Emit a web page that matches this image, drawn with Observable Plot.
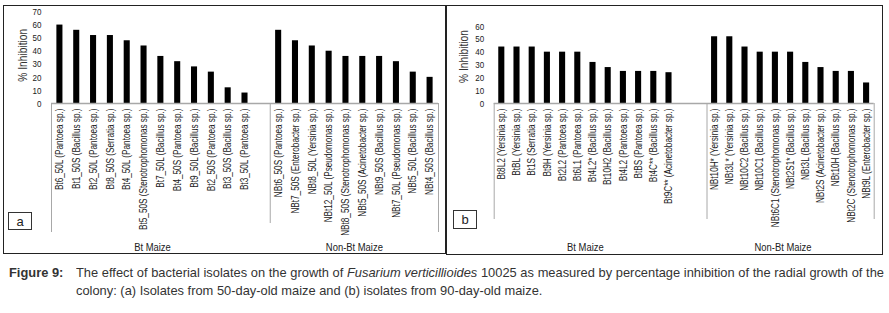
<!DOCTYPE html>
<html><head><meta charset="utf-8">
<script src="https://cdn.jsdelivr.net/npm/d3@7"></script>
<script src="https://cdn.jsdelivr.net/npm/@observablehq/plot@0.6"></script>
<style>
body{margin:0;background:#fff;}
#wrap{position:relative;width:889px;height:313px;background:#fff;overflow:hidden;font-family:'Liberation Sans',Arial,sans-serif;color:#222;}
.panel{position:absolute;}
.border{position:absolute;border:1.5px solid #222;box-sizing:border-box;}
.tag{position:absolute;border:1px solid #333;box-sizing:border-box;font-size:13px;display:flex;align-items:center;justify-content:center;background:#fff;}
.cap{position:absolute;font-size:13.5px;line-height:18px;white-space:nowrap;color:#333;transform-origin:0 0;}
</style></head><body><div id="wrap">
<div class="border" style="left:3px;top:5px;width:443px;height:249px"></div>
<div class="border" style="left:446px;top:5px;width:437px;height:250px"></div>
<div class="panel" id="pa" style="left:4px;top:6px"></div>
<div class="panel" id="pb" style="left:447px;top:6px"></div>
<div class="tag" style="left:8px;top:212px;width:24px;height:18px">a</div>
<div class="tag" style="left:453px;top:210px;width:24px;height:19px">b</div>
<div class="cap" id="c0" style="left:9px;top:264px;font-weight:bold">Figure 9:</div>
<div class="cap" id="c1" style="left:76px;top:264px;white-space:normal;text-align:justify;text-align-last:justify">The effect of bacterial isolates on the growth of <i>Fusarium verticillioides</i> 10025 as measured by percentage inhibition of the radial growth of the</div>
<div class="cap" id="c2" style="left:76px;top:282px">colony: (a) Isolates from 50-day-old maize and (b) isolates from 90-day-old maize.</div>
</div>
<script>
// Panel a: isolates from 50-day-old maize
const aBtNames = ["Bt6_50L (Pantoea sp.)","Bt1_50S (Bacillus sp.)","Bt2_50L (Pantoea sp.)","Bt8_50S (Serratia sp.)","Bt4_50L (Pantoea sp.)","Bt5_50S (Stenotrophomonas sp.)","Bt7_50L (Bacillus sp.)","Bt4_50S (Pantoea sp.)","Bt9_50L (Bacillus sp.)","Bt2_50S (Pantoea sp.)","Bt3_50S (Bacillus sp.)","Bt3_50L (Pantoea sp.)"];
const aBtValues = [60,56,52,52,48,44,36,32,28,24,12,8];
const aNonBtNames = ["NBt6_50S (Pantoea sp.)","NBt7_50S (Enterobacter sp.)","NBt8_50L (Yersinia sp.)","NBt12_50L (Pseudomonas sp.)","NBt8_50S (Stenotrophomonas sp.)","NBt5_50S (Acinetobacter sp.)","NBt9_50S (Bacillus sp.)","NBt7_50L (Pseudomonas sp.)","NBt5_50L (Bacillus sp.)","NBt4_50S (Bacillus sp.)"];
const aNonBtValues = [56,48,44,40,36,36,36,32,24,20];
const aYTicks = [0,10,20,30,40,50,60,70];

// Panel b: isolates from 90-day-old maize
const bBtNames = ["Bt8L2 (Yersinia sp.)","BtBL (Yersinia sp.)","Bt1S (Serratia sp.)","Bt9H (Yersinia sp.)","Bt2L2 (Pantoea sp.)","Bt6L1 (Pantoea sp.)","Bt4L2* (Bacillus sp.)","Bt10H2 (Bacillus sp.)","Bt4L2 (Pantoea sp.)","BtBS (Pantoea sp.)","Bt4C** (Bacillus sp.)","Bt9C** (Acinetobacter sp.)"];
const bBtValues = [44,44,44,40,40,40,32,28,25,25,25,24];
const bNonBtNames = ["NBt10H* (Yersinia sp.)","NBt3L* (Yersinia sp.)","NBt10C2 (Bacillus sp.)","NBt10C1 (Bacillus sp.)","NBt6C1 (Stenotrophomonas sp.)","NBt2S1* (Bacillus sp.)","NBt3L (Bacillus sp.)","NBt2S (Acinetobacter sp.)","NBt10H (Bacillus sp.)","NBt2C (Stenotrophomonas sp.)","NBt9L (Enterobacter sp.)"];
const bNonBtValues = [52,52,44,40,40,40,32,28,25,25,16];
const bYTicks = [0,10,20,30,40,50,60];

const groupLabels = ["Bt Maize","Non-Bt Maize"];
const yTitle = "% Inhibition";
const FONT = "'Liberation Sans',Arial,sans-serif";
const NARROW = 0.82;

function condense(svg, sx) {
  svg.querySelectorAll("text").forEach(t => {
    const tr = t.getAttribute("transform");
    if (tr) t.setAttribute("transform", tr + ` scale(${sx},1)`);
    else {
      const x = +t.getAttribute("x") || 0, y = +t.getAttribute("y") || 0;
      t.removeAttribute("x"); t.removeAttribute("y");
      t.setAttribute("transform", `translate(${x},${y}) scale(${sx},1)`);
    }
  });
  return svg;
}

function panel(o) {
  const gaps = d3.range(o.nGaps).map(i => "gap" + i);
  const domain = [...o.btNames, ...gaps, ...o.nonBtNames];
  const data = [
    ...o.btNames.map((n, i) => ({name: n, value: o.btValues[i]})),
    ...o.nonBtNames.map((n, i) => ({name: n, value: o.nonBtValues[i]}))
  ];
  const step = (o.width - o.ml - o.mr) / domain.length;
  const frameH = o.height - o.mt - o.mb;
  const btMid = o.btNames[Math.floor(o.btNames.length / 2)];
  const nbMid = o.nonBtNames[o.nbMidIndex];
  const svg = Plot.plot({
    width: o.width, height: o.height,
    marginTop: o.mt, marginBottom: o.mb, marginLeft: o.ml, marginRight: o.mr,
    style: {fontFamily: FONT, fontSize: "10px", color: "#222", background: "transparent", overflow: "visible"},
    x: {domain, paddingInner: o.pad, paddingOuter: o.pad / 2, round: false, axis: null},
    y: {domain: [0, o.yMax], axis: null},
    marks: [
      Plot.axisY({ticks: o.yTicks, tickSize: 0, tickPadding: 10, fontSize: 9.8, label: null}),
      Plot.axisX({tickRotate: -90, tickSize: 0, tickPadding: 5, fontSize: 10, label: null, tickFormat: d => gaps.includes(d) ? "" : d}),
      Plot.barY(data, {x: "name", y: "value", fill: "#000"}),
      Plot.ruleY([0], {stroke: "#a8a8a8", strokeWidth: 1.5}),
      Plot.ruleX([domain[0]], {x: d => d, dx: -step / 2, stroke: "#a8a8a8", insetTop: frameH, insetBottom: -o.extL}),
      Plot.ruleX([o.nonBtNames[0]], {x: d => d, dx: -step / 2, stroke: "#a8a8a8", insetTop: frameH, insetBottom: -o.extS}),
      Plot.ruleX([domain[domain.length - 1]], {x: d => d, dx: step / 2, stroke: "#a8a8a8", insetTop: frameH, insetBottom: -o.extR}),
      Plot.text([groupLabels[0]], {x: () => btMid, text: d => d, frameAnchor: "bottom", dx: -step / 2, dy: o.groupDy, fontSize: 11.5, fill: "#222"}),
      Plot.text([groupLabels[1]], {x: () => nbMid, text: d => d, frameAnchor: "bottom", dx: o.nbDx * step, dy: o.groupDy, fontSize: 11.5, fill: "#222"}),
      Plot.text([yTitle], {text: d => d, frameAnchor: "left", textAnchor: "middle", rotate: -90, dx: o.titleDx, dy: o.titleDy, fontSize: 12.5, fill: "#333"})
    ]
  });
  return condense(svg, NARROW);
}

document.getElementById("pa").append(panel({
  btNames: aBtNames, btValues: aBtValues, nonBtNames: aNonBtNames, nonBtValues: aNonBtValues,
  nGaps: 1, yMax: 70, yTicks: aYTicks,
  width: 440, height: 246, mt: 5.5, mb: 149, ml: 47, mr: 6, pad: 0.64,
  extL: 129, extS: 120, extR: 129, groupDy: 147, nbMidIndex: 5, nbDx: -0.5,
  titleDx: -29, titleDy: -2.5
}));

document.getElementById("pb").append(panel({
  btNames: bBtNames, btValues: bBtValues, nonBtNames: bNonBtNames, nonBtValues: bNonBtValues,
  nGaps: 2, yMax: 60, yTicks: bYTicks,
  width: 434, height: 247, mt: 20, mb: 150, ml: 46.7, mr: 7.3, pad: 0.6,
  extL: 116, extS: 116, extR: 116, groupDy: 147, nbMidIndex: 5, nbDx: -0.5,
  titleDx: -30.7, titleDy: -8.5
}));

// Caption: condense to fit the first line into its 808px measure
(function () {
  const c1 = document.getElementById("c1");
  const ctx = document.createElement("canvas").getContext("2d");
  ctx.font = "13.5px 'Liberation Sans'";
  const w = ctx.measureText(c1.textContent).width;
  const sx = Math.min(1, 806 / w);
  ["c0", "c1", "c2"].forEach(id => {
    document.getElementById(id).style.transform = `scaleX(${sx})`;
  });
  c1.style.width = (808 / sx) + "px";
})();
</script>
</body></html>
